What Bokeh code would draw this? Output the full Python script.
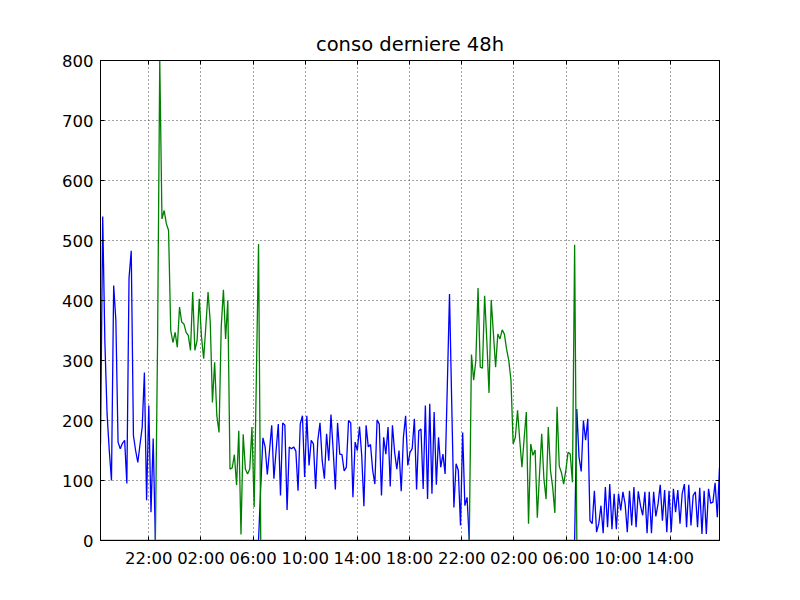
import numpy as np
import pandas as pd
from bokeh.plotting import figure
from bokeh.models import (Range1d, DatetimeAxis, LinearAxis, FixedTicker,
                          DatetimeTickFormatter)
from bokeh.embed import file_html
from bokeh.resources import INLINE

# ---------------- data ----------------
start_time = "2013-01-01 18:18"
sample_seconds = 606

# blue series: day periods (zeros during the night)
blue_day1 = [160, 540, 330, 211, 150, 100, 425, 367, 164, 153, 162, 167, 95, 438,
             483, 175, 150, 130, 160, 189, 280, 67, 225, 47, 170]
blue_day2 = [90, 171, 156, 110, 150, 192, 103, 150, 194, 75, 196, 192, 51, 156,
             153, 156, 149, 83, 194, 208, 106, 208, 125, 167, 161, 86, 167, 196,
             133, 103, 178, 133, 210, 150, 85, 196, 144, 143, 116, 122, 200, 196,
             72, 164, 150, 190, 142, 57, 192, 156, 160, 117, 94, 201, 194, 75,
             172, 144, 189, 90, 192, 147, 119, 150, 82, 172, 208, 125, 147, 153,
             203, 85, 183, 186, 86, 225, 69, 228, 78, 214, 93, 172, 122, 144,
             111, 258, 411, 230, 55, 128, 117, 25, 180, 58, 72]
blue_day3 = [219, 139, 115, 200, 167, 203, 33, 28, 83, 14, 28, 58, 12, 89, 22, 94,
             19, 78, 19, 78, 50, 81, 61, 14, 83, 25, 89, 22, 82, 58, 42, 81, 12,
             81, 12, 81, 40, 61, 93, 33, 84, 14, 83, 14, 86, 47, 84, 28, 78, 94,
             22, 93, 25, 75, 81, 22, 88, 11, 83, 11, 86, 62, 64, 96, 39, 121]

# green series: night periods (zeros during the day)
green_night1 = [330, 800, 536, 550, 528, 517, 350, 330, 347, 322, 389, 364, 361,
                347, 342, 317, 414, 317, 333, 403, 340, 303, 358, 414, 364, 230,
                297, 208, 180, 356, 418, 336, 400, 119, 121, 143, 92, 183, 10, 177,
                119, 111, 119, 189, 56, 270, 494]
green_night2 = [310, 267, 300, 421, 289, 287, 408, 333, 246, 401, 345, 289, 344,
                336, 351, 344, 319, 300, 267, 161, 172, 217, 167, 122, 170, 214,
                28, 161, 142, 151, 38, 110, 178, 103, 69, 189, 117, 89, 46, 223,
                124, 113, 94, 117, 147, 144, 97, 493]

blue = (blue_day1 + [0] * 48 + blue_day2 + [0] * 49 + blue_day3)
green = ([0] * 26 + green_night1 + [0] * 96 + green_night2 + [0] * 66)

y_ticks = [0, 100, 200, 300, 400, 500, 600, 700, 800]
first_tick = "2013-01-01 22:00"
tick_count = 11
tick_hours = 4
title_text = "conso derniere 48h"

# ---------------- figure ----------------
n = len(blue)
times = pd.Timestamp(start_time) + pd.to_timedelta(np.arange(n) * sample_seconds, unit="s")
times = list(times.to_pydatetime())

tick_times = pd.date_range(first_tick, periods=tick_count, freq=f"{tick_hours}h")
epoch = pd.Timestamp("1970-01-01")
tick_ms = [(t - epoch).total_seconds() * 1000.0 for t in tick_times]

FONT = "DejaVu Sans"

p = figure(width=790, height=590, x_axis_type="datetime",
           output_backend="svg", toolbar_location=None,
           x_range=Range1d(times[0], times[-1]),
           y_range=Range1d(0, 800),
           min_border_left=100, min_border_right=71,
           min_border_top=60, min_border_bottom=50,
           background_fill_color="white", border_fill_color="white")

p.title.text = title_text
p.title.align = "center"
p.title.text_font = FONT
p.title.text_font_size = "19.5px"
p.title.text_font_style = "normal"
p.title.text_color = "black"

xticker = FixedTicker(ticks=tick_ms)
yticker = FixedTicker(ticks=y_ticks)
fmt = DatetimeTickFormatter(hours="%H:%M", hourmin="%H:%M", days="%H:%M",
                            minutes="%H:%M", minsec="%H:%M", months="%H:%M",
                            years="%H:%M")

p.xaxis.ticker = xticker
p.xaxis.formatter = fmt
p.yaxis.ticker = yticker

for ax in (p.xaxis[0], p.yaxis[0]):
    ax.major_tick_in = 4
    ax.major_tick_out = 0
    ax.minor_tick_line_color = None
    ax.major_tick_line_color = "black"
    ax.axis_line_color = "black"
    ax.major_label_text_font = FONT
    ax.major_label_text_font_size = "16.5px"
    ax.major_label_text_color = "black"
p.xaxis.major_label_standoff = 8
p.yaxis.major_label_standoff = 7

top_axis = DatetimeAxis(ticker=xticker, formatter=fmt, major_tick_in=4, major_tick_out=0,
                        minor_tick_line_color=None, major_label_text_color=None,
                        major_label_standoff=0, axis_line_color="black")
right_axis = LinearAxis(ticker=yticker, major_tick_in=4, major_tick_out=0,
                        minor_tick_line_color=None, major_label_text_color=None,
                        major_label_standoff=0, axis_line_color="black")
p.add_layout(top_axis, "above")
p.add_layout(right_axis, "right")

p.xgrid.ticker = xticker
p.ygrid.ticker = yticker
p.grid.grid_line_color = "#444444"
p.grid.grid_line_width = 1
p.grid.grid_line_dash = "1 3"

p.outline_line_color = "black"
p.outline_line_width = 1

p.line(times, blue, line_color="#0000ff", line_width=1.3)
p.line(times, green, line_color="#008000", line_width=1.3)

open("out.html", "w").write(file_html(p, INLINE))
